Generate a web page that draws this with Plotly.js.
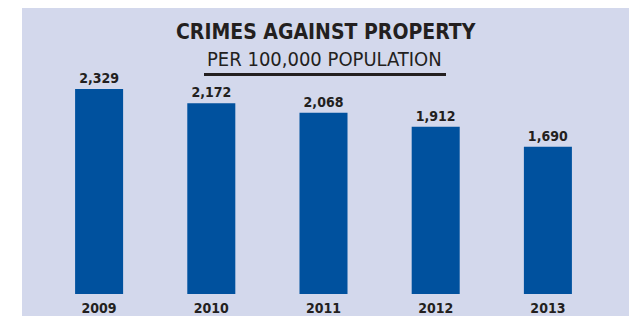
<!DOCTYPE html>
<html>
<head>
<meta charset="utf-8">
<script src="https://cdn.plot.ly/plotly-3.0.1.min.js"></script>
<style>html,body{margin:0;padding:0;background:#fff;}#chart{width:629px;height:316px;}</style>
</head>
<body>
<div id="chart"></div>
<script>
const years = ['2009', '2010', '2011', '2012', '2013'];
const values = [2329, 2172, 2068, 1912, 1690];
const valueLabels = ['2,329', '2,172', '2,068', '1,912', '1,690'];
const titleText = 'CRIMES AGAINST PROPERTY';
const subtitleText = 'PER 100,000 POPULATION';

const W = 629, H = 316;
const mL = 43, mR = 25, mT = 80, mB = 22;
const plotW = W - mL - mR, plotH = H - mT - mB;
const px2x = p => (p - mL) / plotW;
const py2y = p => (H - mB - p) / plotH;

const FONT = '"DejaVu Sans Condensed", "DejaVu Sans", sans-serif';
const DARK = '#231f20';

const trace = {
  type: 'bar',
  x: years,
  y: values,
  text: valueLabels,
  textposition: 'outside',
  cliponaxis: false,
  textfont: {family: FONT, size: 14, color: DARK, weight: 'bold'},
  marker: {color: '#00519e'},
  hoverinfo: 'none'
};

const layout = {
  width: W, height: H,
  margin: {l: mL, r: mR, t: mT, b: mB, pad: 0},
  paper_bgcolor: '#ffffff',
  plot_bgcolor: 'rgba(0,0,0,0)',
  bargap: 0.572,
  showlegend: false,
  xaxis: {
    type: 'category',
    range: [-0.5, 4.5],
    showgrid: false, zeroline: false, showline: false, ticks: '',
    ticklabelstandoff: 4,
    tickfont: {family: FONT, size: 14, color: DARK, weight: 'bold'},
    fixedrange: true
  },
  yaxis: {
    range: [64, 64 + plotH / 0.0905],
    visible: false,
    fixedrange: true
  },
  shapes: [
    {type: 'rect', xref: 'paper', yref: 'paper', layer: 'below',
     x0: px2x(22), x1: px2x(640), y0: py2y(330), y1: py2y(8),
     fillcolor: '#d3d8ec', line: {width: 0}},
    {type: 'line', xref: 'paper', yref: 'paper',
     x0: px2x(204), x1: px2x(446), y0: py2y(74.5), y1: py2y(74.5),
     line: {color: DARK, width: 3}}
  ],
  annotations: [
    {xref: 'paper', yref: 'paper', x: px2x(325.5), y: py2y(31.5), xanchor: 'center', yanchor: 'middle',
     text: titleText, showarrow: false, font: {family: FONT, size: 21, color: DARK, weight: 'bold'}},
    {xref: 'paper', yref: 'paper', x: px2x(324.5), y: py2y(58.5), xanchor: 'center', yanchor: 'middle',
     text: subtitleText, showarrow: false, font: {family: FONT, size: 20, color: DARK}}
  ]
};

Plotly.newPlot('chart', [trace], layout, {displayModeBar: false, staticPlot: true});
</script>
</body>
</html>
